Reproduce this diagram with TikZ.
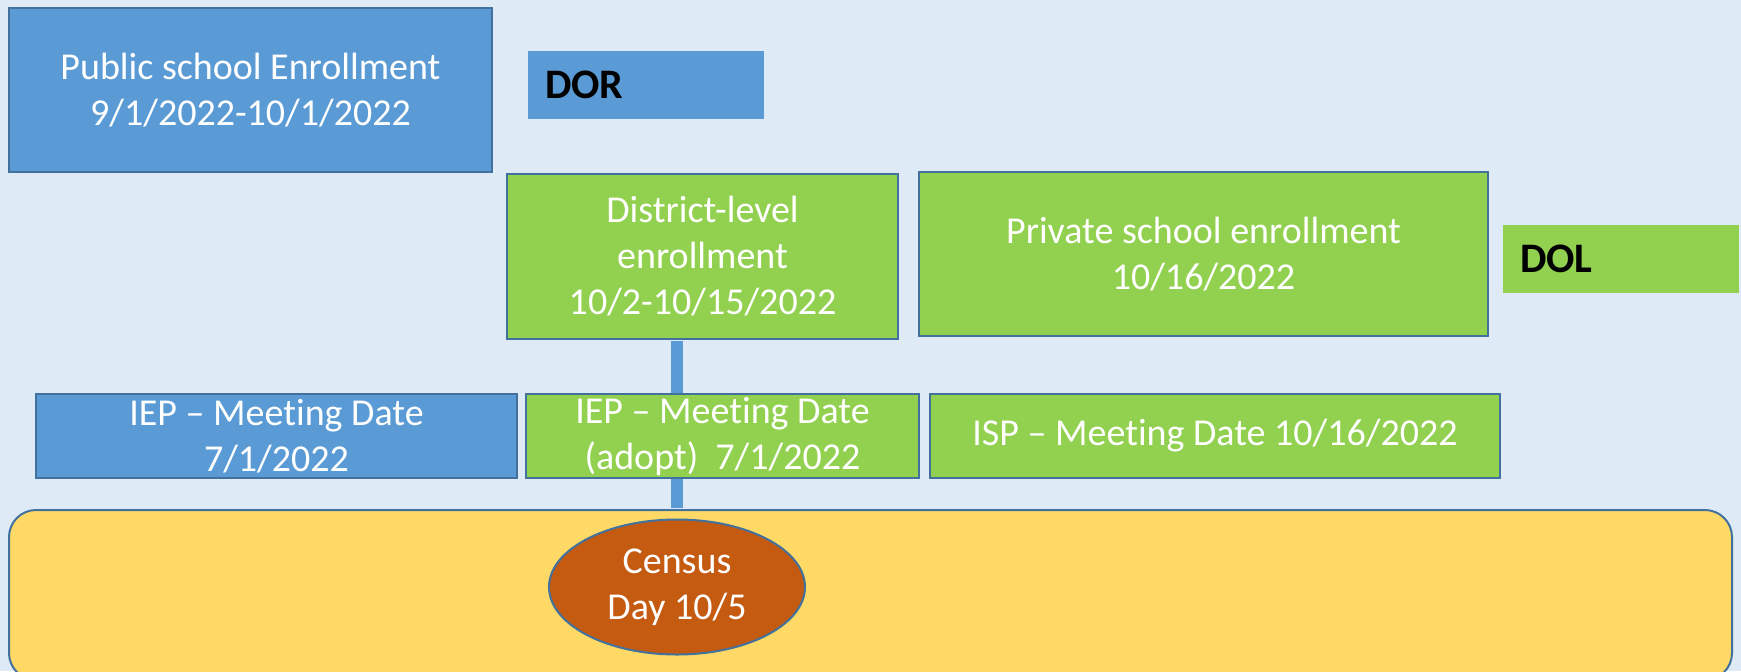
\documentclass[tikz,border=0pt]{standalone}
\usepackage{fontspec}
\setmainfont{Carlito}[Ligatures=NoCommon]
\usetikzlibrary{shapes.geometric}

\definecolor{bgblue}{RGB}{222,235,247}
\definecolor{boxblue}{RGB}{91,155,213}
\definecolor{boxgreen}{RGB}{146,208,80}
\definecolor{edgeblue}{RGB}{65,113,156}
\definecolor{bandyellow}{RGB}{255,217,102}
\definecolor{censusorange}{RGB}{197,90,17}

\begin{document}
\begin{tikzpicture}[x=0.5pt,y=-0.5pt,
box/.style={draw=edgeblue, line width=1pt, text=white, align=center,
                inner sep=0pt, font=\fontsize{19}{23}\selectfont},
bluebox/.style={box, fill=boxblue},
greenbox/.style={box, fill=boxgreen},
tagbox/.style={inner xsep=8.5pt, inner ysep=0pt, text width=101pt,
                align=left, minimum height=34pt,
                font=\fontsize{21}{25}\selectfont\bfseries}]
    \useasboundingbox (0,0) rectangle (1741,671);
    \fill[bgblue] (0,0) rectangle (1741,671);
    \clip (0,0) rectangle (1741,671);

    % top row
    \node[bluebox, minimum width=241.5pt, minimum height=82pt] (pub)
        at (250.5,90) {Public school Enrollment\\9/1/2022-10/1/2022};
    \node[tagbox, fill=boxblue] (dor) at (646,85) {DOR};

    % second row
    \node[greenbox, minimum width=195.5pt, minimum height=82.5pt] (dist)
        at (702.5,256.5) {District-level\\enrollment\\10/2-10/15/2022};
    \node[greenbox, minimum width=284.5pt, minimum height=82pt] (priv)
        at (1203.5,254) {Private school enrollment\\10/16/2022};
    \node[tagbox, fill=boxgreen] (dol) at (1621,259) {DOL};

    % census band
    \node[box, fill=bandyellow, rounded corners=13.5pt,
          minimum width=861.5pt, minimum height=85pt] (band) at (870.5,595) {};
    \node[box, ellipse, fill=censusorange, minimum width=128pt,
          minimum height=67.5pt] (census) at (677,587) {Census\\Day 10/5};
    \draw[boxblue, line width=6pt, shorten <=0.6pt, shorten >=0.6pt]
        (census.north |- dist.south) -- (census.north |- band.north);

    % meeting dates
    \node[bluebox, minimum width=240.5pt, minimum height=42pt] (iep)
        at (276.5,436) {IEP -- Meeting Date\\7/1/2022};
    \node[greenbox, minimum width=196.5pt, minimum height=42pt] (iepadopt)
        at (722.5,436) {IEP -- Meeting Date\\(adopt)~~7/1/2022};
    \node[greenbox, minimum width=285pt, minimum height=42pt] (isp)
        at (1215,436) {ISP -- Meeting Date 10/16/2022};
\end{tikzpicture}
\end{document}
